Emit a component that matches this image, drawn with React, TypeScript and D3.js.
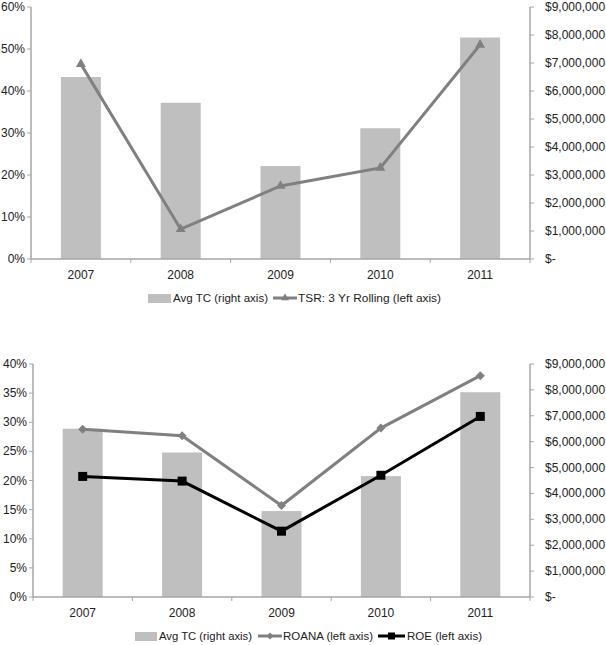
import React from "react";
import * as d3 from "d3";

const years = ["2007", "2008", "2009", "2010", "2011"];
const avgTC = [6500000, 5580000, 3320000, 4670000, 7910000];
const tsr = [46.4, 7.1, 17.4, 21.7, 51.0];
const roana = [28.8, 27.7, 15.7, 29.0, 38.0];
const roe = [20.7, 19.9, 11.3, 20.9, 31.0];
const leftTicksTop = [0, 10, 20, 30, 40, 50, 60];
const leftTicksBottom = [0, 5, 10, 15, 20, 25, 30, 35, 40];
const rightTicks = [0, 1000000, 2000000, 3000000, 4000000, 5000000, 6000000, 7000000, 8000000, 9000000];

const FONT = "'Liberation Sans', Arial, Helvetica, sans-serif";
const AXIS = "#a6a6a6";
const BAR = "#bfbfbf";

type LineSpec = { values: number[]; color: string; marker: "triangle" | "diamond" | "square"; width: number; msize: number };

// size = approximate width of the marker in px
function Marker({ type, x, y, color, size }: { type: string; x: number; y: number; color: string; size: number }) {
  if (type === "square") return <rect x={x - size / 2} y={y - size / 2} width={size} height={size} fill={color} />;
  if (type === "diamond") {
    const h = size / 2;
    return <path d={`M${x},${y - h}L${x + h},${y}L${x},${y + h}L${x - h},${y}Z`} fill={color} />;
  }
  const p = d3.symbol().type(d3.symbolTriangle).size((Math.sqrt(3) / 4) * size * size)();
  return <path d={p || ""} transform={`translate(${x},${y})`} fill={color} />;
}

function fmtMoney(v: number) {
  return v === 0 ? "$-" : "$" + d3.format(",")(v);
}

function Chart({ top, bottom, left, right, leftMax, leftTicks, lines }: {
  top: number; bottom: number; left: number; right: number; leftMax: number; leftTicks: number[]; lines: LineSpec[];
}) {
  const x = d3.scaleBand().domain(years).range([left, right]);
  const yL = d3.scaleLinear().domain([0, leftMax]).range([bottom, top]);
  const yR = d3.scaleLinear().domain([0, 9000000]).range([bottom, top]);
  const bw = 40;
  const lineGen = d3.line<number>().x((_, i) => x(years[i])! + x.bandwidth() / 2).y((d) => yL(d));
  const edges = [...years.map((y) => x(y)!), right];
  return (
    <g fontFamily={FONT} fontSize={12} fill="#222">
      {years.map((yr, i) => (
        <rect key={yr} x={x(yr)! + x.bandwidth() / 2 - bw / 2} y={yR(avgTC[i])} width={bw} height={bottom - yR(avgTC[i])} fill={BAR} />
      ))}
      <line x1={left} x2={left} y1={top} y2={bottom} stroke={AXIS} strokeWidth={1.5} />
      <line x1={right} x2={right} y1={top} y2={bottom} stroke={AXIS} strokeWidth={1.5} />
      <line x1={left} x2={right} y1={bottom} y2={bottom} stroke={AXIS} strokeWidth={1.5} />
      {leftTicks.map((t) => (
        <g key={"l" + t}>
          <line x1={left - 4} x2={left} y1={yL(t)} y2={yL(t)} stroke={AXIS} />
          <text x={left - 6} y={yL(t) + 4} textAnchor="end">{t}%</text>
        </g>
      ))}
      {rightTicks.map((t) => (
        <g key={"r" + t}>
          <line x1={right} x2={right + 4} y1={yR(t)} y2={yR(t)} stroke={AXIS} />
          <text x={right + 15} y={yR(t) + 4}>{fmtMoney(t)}</text>
        </g>
      ))}
      {edges.map((e, i) => (
        <line key={"x" + i} x1={e} x2={e} y1={bottom} y2={bottom + 4} stroke={AXIS} />
      ))}
      {years.map((yr) => (
        <text key={"t" + yr} x={x(yr)! + x.bandwidth() / 2} y={bottom + 20} textAnchor="middle">{yr}</text>
      ))}
      {lines.map((ln, k) => (
        <g key={"ln" + k}>
          <path d={lineGen(ln.values) || ""} fill="none" stroke={ln.color} strokeWidth={ln.width} />
          {ln.values.map((v, i) => (
            <Marker key={i} type={ln.marker} x={x(years[i])! + x.bandwidth() / 2} y={yL(v)} color={ln.color} size={ln.msize} />
          ))}
        </g>
      ))}
    </g>
  );
}

function LegendLine({ x, y, color, marker, width, msize, len }: { x: number; y: number; color: string; marker: string; width: number; msize: number; len: number }) {
  return (
    <g>
      <line x1={x} x2={x + len} y1={y} y2={y} stroke={color} strokeWidth={width} />
      <Marker type={marker} x={x + len / 2} y={y} color={color} size={msize} />
    </g>
  );
}

export default function App() {
  return (
    <svg width={606} height={645} style={{ position: "absolute", left: 0, top: 0, background: "#fff" }}>
      <Chart top={7} bottom={259} left={31} right={530} leftMax={60} leftTicks={leftTicksTop}
        lines={[{ values: tsr, color: "#808080", marker: "triangle", width: 3, msize: 10 }]} />
      <Chart top={364} bottom={597} left={33} right={530} leftMax={40} leftTicks={leftTicksBottom}
        lines={[
          { values: roana, color: "#808080", marker: "diamond", width: 3, msize: 9 },
          { values: roe, color: "#000", marker: "square", width: 3, msize: 9 },
        ]} />
      <g fontFamily={FONT} fontSize={11.5} fill="#222">
        <rect x={148} y={294} width={23} height={9} fill={BAR} />
        <text x={173} y={302} textLength={95} lengthAdjust="spacingAndGlyphs">Avg TC (right axis)</text>
        <LegendLine x={273} y={298} color="#808080" marker="triangle" width={3} msize={8} len={24} />
        <text x={298} y={302} textLength={143} lengthAdjust="spacingAndGlyphs">TSR: 3 Yr Rolling (left axis)</text>

        <rect x={135} y={632} width={22} height={9} fill={BAR} />
        <text x={159} y={640} textLength={93} lengthAdjust="spacingAndGlyphs">Avg TC (right axis)</text>
        <LegendLine x={258} y={636} color="#808080" marker="diamond" width={3} msize={7} len={24} />
        <text x={283} y={640} textLength={90} lengthAdjust="spacingAndGlyphs">ROANA (left axis)</text>
        <LegendLine x={378} y={636} color="#000" marker="square" width={3} msize={7} len={27} />
        <text x={407} y={640} textLength={75} lengthAdjust="spacingAndGlyphs">ROE (left axis)</text>
      </g>
    </svg>
  );
}
